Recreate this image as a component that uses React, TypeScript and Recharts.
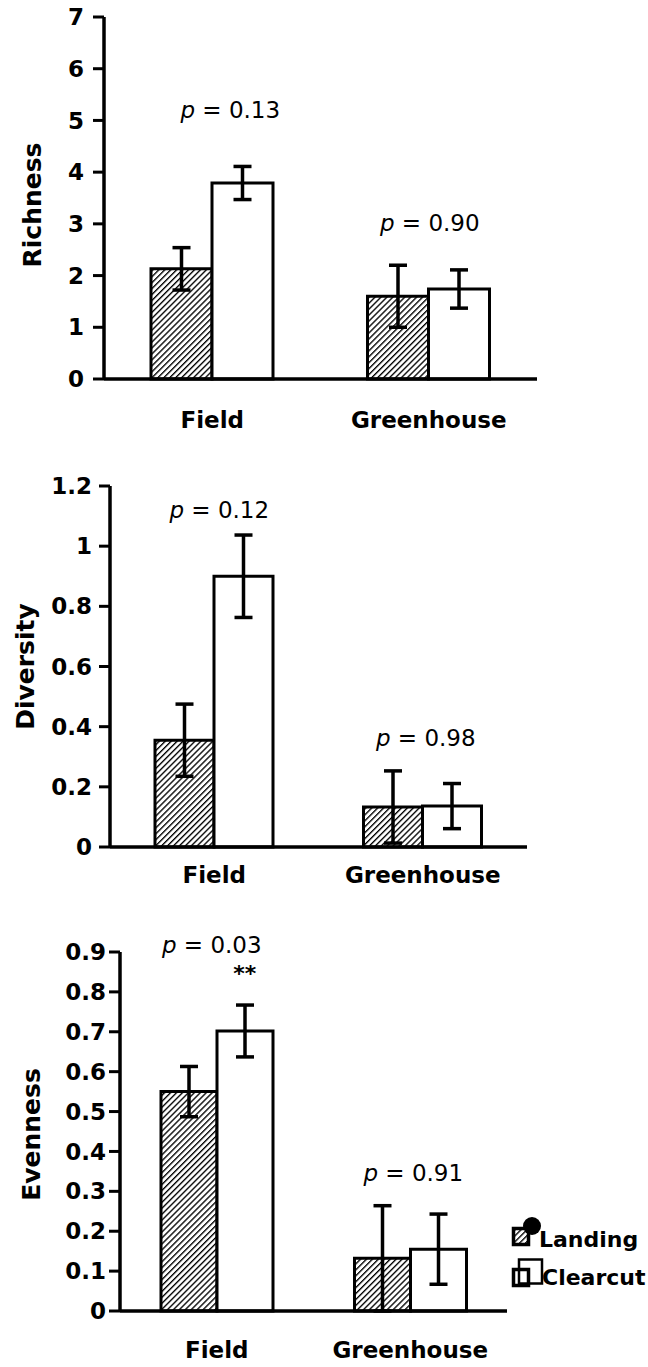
import React from 'react'
import { BarChart, Bar, XAxis, YAxis, ErrorBar, ReferenceDot, Legend } from 'recharts'

const categories = ['Field', 'Greenhouse']

const richnessLanding = [2.13, 1.6]
const richnessLandingErr = [0.41, 0.6]
const richnessClearcut = [3.79, 1.74]
const richnessClearcutErr = [0.32, 0.37]

const diversityLanding = [0.355, 0.133]
const diversityLandingErr = [0.12, 0.12]
const diversityClearcut = [0.9, 0.136]
const diversityClearcutErr = [0.137, 0.075]

const evennessLanding = [0.55, 0.132]
const evennessLandingErr = [0.063, 0.132]
const evennessClearcut = [0.702, 0.155]
const evennessClearcutErr = [0.065, 0.088]

const richnessTicks = [0, 1, 2, 3, 4, 5, 6, 7]
const diversityTicks = [0, 0.2, 0.4, 0.6, 0.8, 1, 1.2]
const evennessTicks = [0, 0.1, 0.2, 0.3, 0.4, 0.5, 0.6, 0.7, 0.8, 0.9]

// p-values per category and the axis value they are printed at
const richnessP = ['0.13', '0.90']
const richnessPAt = [5.2, 3.02]
const diversityP = ['0.12', '0.98']
const diversityPAt = [1.12, 0.362]
const evennessP = ['0.03', '0.91']
const evennessPAt = [0.917, 0.346]
const evennessStarAt = 0.847

const BOLD = 'DejaVu Sans'

function buildRows(l: number[], le: number[], c: number[], ce: number[]) {
  return categories.map((name, i) => ({
    name,
    landing: l[i],
    landingErr: le[i],
    clearcut: c[i],
    clearcutErr: ce[i],
  }))
}

const CategoryTick = (props: any) => {
  const { x, y, payload, dy } = props
  return (
    <text x={x} y={y + dy} textAnchor="middle" fontFamily={BOLD} fontWeight="bold" fontSize={23} fill="#000">
      {payload.value}
    </text>
  )
}

const AxisTitle = (props: any) => {
  const { viewBox, value, cx, dy } = props
  const cy = viewBox.y + viewBox.height / 2 + dy
  return (
    <text
      x={cx}
      y={cy}
      transform={`rotate(-90 ${cx} ${cy})`}
      textAnchor="middle"
      dominantBaseline="central"
      fontFamily={BOLD}
      fontWeight="bold"
      fontSize={25}
      fill="#000"
    >
      {value}
    </text>
  )
}

const pNote = (text: string, dx: number) => (props: any) => (
  <text
    x={props.cx + dx}
    y={props.cy}
    textAnchor="middle"
    dominantBaseline="central"
    fontFamily="DejaVu Sans"
    fontSize={23}
    fill="#000"
  >
    <tspan fontStyle="italic">p</tspan> = {text}
  </text>
)

const starNote = (dx: number) => (props: any) => (
  <text x={props.cx + dx} y={props.cy} textAnchor="middle" dominantBaseline="central" fontFamily={BOLD} fontWeight="bold" fontSize={22} fill="#000">
    **
  </text>
)

const HatchDef = ({ id }: { id: string }) => (
  <pattern id={id} patternUnits="userSpaceOnUse" width={4.2} height={4.2} patternTransform="rotate(45)">
    <rect width={4.2} height={4.2} fill="#fff" />
    <line x1={0} y1={0} x2={0} y2={4.2} stroke="#000" strokeWidth={2.7} />
  </pattern>
)

const LegendBox = () => (
  <svg width={140} height={72} style={{ overflow: 'visible' }}>
    <defs>
      <HatchDef id="hatch-legend" />
    </defs>
    <rect x={5.5} y={10.5} width={15} height={16} fill="url(#hatch-legend)" stroke="#000" strokeWidth={3.5} />
    <circle cx={24} cy={8} r={9} fill="#000" />
    <text x={31} y={29} fontFamily={BOLD} fontWeight="bold" fontSize={22} fill="#000">Landing</text>
    <rect x={5.5} y={51.5} width={15} height={16} fill="#fff" stroke="#000" strokeWidth={3.5} />
    <rect x={11} y={41.5} width={23} height={24} fill="none" stroke="#000" strokeWidth={2.5} />
    <text x={34} y={67} fontFamily={BOLD} fontWeight="bold" fontSize={22} fill="#000">Clearcut</text>
  </svg>
)

interface PanelProps {
  id: string
  top: number
  height: number
  data: any[]
  ticks: number[]
  maxY: number
  title: string
  marginTop: number
  marginRight: number
  yWidth: number
  xHeight: number
  barSize: number
  tickMargin: number
  titleX: number
  titleDy: number
  catDy: number
  pTexts: string[]
  pAt: number[]
  pDx: number[]
  star?: boolean
  legend?: boolean
}

function Panel(p: PanelProps) {
  const hatch = `hatch-${p.id}`
  return (
    <div style={{ position: 'absolute', left: 0, top: p.top }}>
      <BarChart
        width={648}
        height={p.height}
        data={p.data}
        margin={{ top: p.marginTop, right: p.marginRight, bottom: 0, left: 0 }}
        barGap={0}
        barSize={p.barSize}
      >
        <defs>
          <HatchDef id={hatch} />
        </defs>
        <XAxis
          dataKey="name"
          height={p.xHeight}
          axisLine={{ stroke: '#000', strokeWidth: 3.5 }}
          tickLine={false}
          tickSize={0}
          tickMargin={0}
          tick={<CategoryTick dy={p.catDy} />}
        />
        <YAxis
          width={p.yWidth}
          domain={[0, p.maxY]}
          ticks={p.ticks}
          interval={0}
          axisLine={{ stroke: '#000', strokeWidth: 3.5 }}
          tickLine={{ stroke: '#000', strokeWidth: 3 }}
          tickSize={11}
          tickMargin={p.tickMargin}
          tickFormatter={(v: number) => String(v)}
          tick={{ fill: '#000', fontSize: 23, fontWeight: 'bold', fontFamily: BOLD }}
          label={<AxisTitle value={p.title} cx={p.titleX} dy={p.titleDy} />}
        />
        <Bar dataKey="landing" name="Landing" fill={`url(#${hatch})`} stroke="#000" strokeWidth={3} isAnimationActive={false}>
          <ErrorBar dataKey="landingErr" direction="y" width={9} stroke="#000" strokeWidth={3.5} />
        </Bar>
        <Bar dataKey="clearcut" name="Clearcut" fill="#fff" stroke="#000" strokeWidth={3} isAnimationActive={false}>
          <ErrorBar dataKey="clearcutErr" direction="y" width={9} stroke="#000" strokeWidth={3.5} />
        </Bar>
        {categories.map((c, i) => (
          <ReferenceDot
            key={c}
            x={c}
            y={p.pAt[i]}
            r={0}
            ifOverflow="visible"
            shape={pNote(p.pTexts[i], p.pDx[i])}
          />
        ))}
        {p.star && (
          <ReferenceDot x={categories[0]} y={evennessStarAt} r={0} ifOverflow="visible" shape={starNote(p.barSize / 2)} />
        )}
        {p.legend && (
          <Legend
            layout="horizontal"
            verticalAlign="middle"
            align="center"
            content={() => <LegendBox />}
            wrapperStyle={{ left: 508, top: 318, width: 140, height: 72 }}
          />
        )}
      </BarChart>
    </div>
  )
}

export default function App() {
  return (
    <div style={{ position: 'absolute', left: 0, top: 0, width: 648, height: 1367, background: '#fff' }}>
      <Panel
        id="r"
        top={0}
        height={440}
        data={buildRows(richnessLanding, richnessLandingErr, richnessClearcut, richnessClearcutErr)}
        ticks={richnessTicks}
        maxY={7}
        title="Richness"
        marginTop={17}
        marginRight={111}
        yWidth={104}
        xHeight={61}
        barSize={61}
        tickMargin={9}
        titleX={32}
        titleDy={7}
        catDy={49}
        pTexts={richnessP}
        pAt={richnessPAt}
        pDx={[18, 1]}
      />
      <Panel
        id="d"
        top={460}
        height={440}
        data={buildRows(diversityLanding, diversityLandingErr, diversityClearcut, diversityClearcutErr)}
        ticks={diversityTicks}
        maxY={1.2}
        title="Diversity"
        marginTop={26}
        marginRight={121}
        yWidth={110}
        xHeight={53}
        barSize={59}
        tickMargin={7}
        titleX={25}
        titleDy={0}
        catDy={36}
        pTexts={diversityP}
        pAt={diversityPAt}
        pDx={[5, 3]}
      />
      <Panel
        id="e"
        top={900}
        height={467}
        data={buildRows(evennessLanding, evennessLandingErr, evennessClearcut, evennessClearcutErr)}
        ticks={evennessTicks}
        maxY={0.9}
        title="Evenness"
        marginTop={52}
        marginRight={141}
        yWidth={120}
        xHeight={56}
        barSize={56}
        tickMargin={3}
        titleX={31}
        titleDy={3}
        catDy={47}
        pTexts={evennessP}
        pAt={evennessPAt}
        pDx={[-5, 3]}
        star
        legend
      />
    </div>
  )
}
